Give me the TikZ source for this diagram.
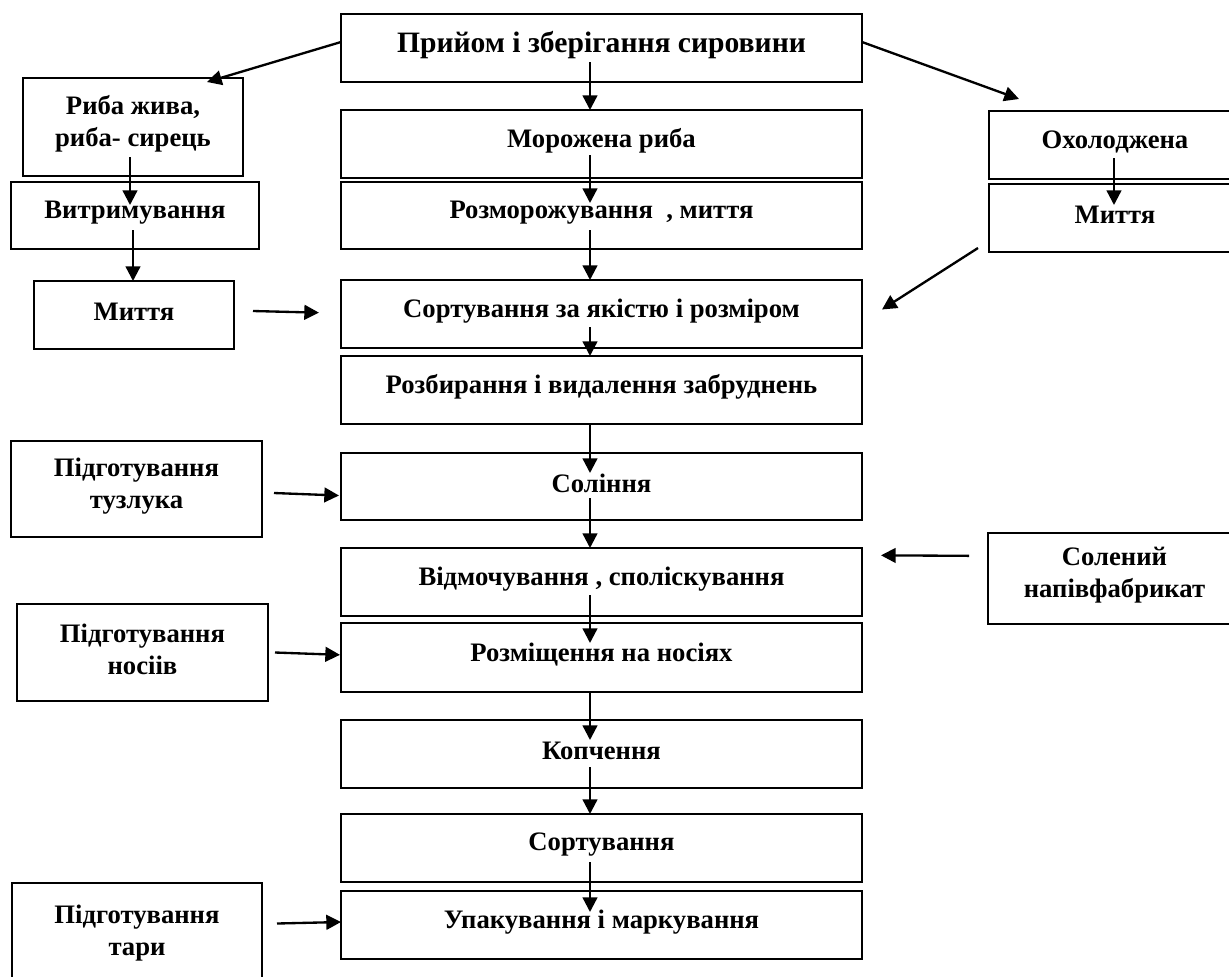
\documentclass[tikz,border=0pt]{standalone}
\usepackage{fontspec}
\setmainfont{Liberation Serif}
\usetikzlibrary{arrows.meta,calc}
\tikzset{
  box/.style={draw=black,line width=2.2pt,rectangle,inner sep=0pt,outer sep=0pt},
  txt/.style={font=\fontsize{20}{24}\selectfont\bfseries,align=center,inner sep=0pt,yshift=2.25pt},
  arr/.style={line width=1.75pt,-{Triangle[length=11pt,width=11pt]}},
}
\newcommand\fbx[6]{%
  \node[box,minimum width={(#4-#2)*0.75pt},minimum height={(#5-#3)*0.75pt}] (#1) at ({(#2+#4)/2},{(#3+#5)/2}) {};
  \node[txt] (#1-t) at (#1.center) {#6};}
\begin{document}
\begin{tikzpicture}[x=0.75pt,y=-0.75pt]
\useasboundingbox (0,0) rectangle (1229,976);
\clip (0,0) rectangle (1229,976);
\fill[white] (0,0) rectangle (1229,976);
% main column
\fbx{A}{341}{14}{862}{82}{\fontsize{22.2}{26}\selectfont Прийом і зберігання сировини}
\fbx{MR}{341}{110}{862}{178}{Морожена риба}
\fbx{RZ}{341}{182}{862}{249}{Розморожування~ , миття}
\fbx{S}{341}{280}{862}{348}{Сортування за якістю і розміром}
\fbx{RB}{341}{356}{862}{424}{Розбирання і видалення забруднень}
\fbx{SL}{341}{453}{862}{520}{Соління}
\fbx{VD}{341}{548}{862}{616}{Відмочування , споліскування}
\fbx{RM}{341}{623}{862}{692}{Розміщення на носіях}
\fbx{K}{341}{720}{862}{788}{Копчення}
\fbx{SO}{341}{814}{862}{882}{Сортування}
\fbx{U}{341}{891}{862}{959}{Упакування і маркування}
% left column
\fbx{R1}{23}{78}{243}{176}{Риба жива,\\риба- сирець}
\fbx{V}{11}{182}{259}{249}{Витримування}
\fbx{M1}{34}{281}{234}{349}{Миття}
\fbx{T}{11}{441}{262}{537}{Підготування\\тузлука}
\fbx{N}{17}{604}{268}{701}{Підготування\\носіів}
\fbx{TR}{12}{883}{262}{990}{Підготування\\тари}
% right column
\fbx{OK}{989}{111}{1241}{179}{Охолоджена}
\fbx{MR2}{989}{184}{1241}{252}{Миття}
\fbx{SN}{988}{533}{1241}{624}{Солений\\напівфабрикат}
\coordinate (col) at (590,0);
\coordinate (lc1) at (130,0);
\coordinate (lc2) at (133,0);
\coordinate (rc) at (1114,0);
% vertical arrows, main column
\draw[arr] ([yshift=15pt]A.south -| col) -- (MR.north -| col);
\draw[arr] ([yshift=17pt]MR.south -| col) -- ([yshift=-15.75pt]RZ.north -| col);
\draw[arr] ([yshift=14.25pt]RZ.south -| col) -- (S.north -| col);
\draw[arr] ([yshift=15.75pt]S.south -| col) -- (RB.north -| col);
\draw[arr] (RB.south -| col) -- ([yshift=-15pt]SL.north -| col);
\draw[arr] ([yshift=16.5pt]SL.south -| col) -- (VD.north -| col);
\draw[arr] ([yshift=15.75pt]VD.south -| col) -- ([yshift=-15pt]RM.north -| col);
\draw[arr] (RM.south -| col) -- ([yshift=-15pt]K.north -| col);
\draw[arr] ([yshift=15.75pt]K.south -| col) -- (SO.north -| col);
\draw[arr] ([yshift=15pt]SO.south -| col) -- ([yshift=-15.75pt]U.north -| col);
% left column
\draw[arr] ([yshift=14.25pt]R1.south -| lc1) -- ([yshift=-17.25pt]V.north -| lc1);
\draw[arr] ([yshift=14.25pt]V.south -| lc2) -- (M1.north -| lc2);
% right column
\draw[arr] ([yshift=15.75pt]OK.south -| rc) -- ([yshift=-15.75pt]MR2.north -| rc);
% diagonal arrows from top
\draw[arr] ([yshift=4.5pt]A.west) -- ([xshift=55.5pt,yshift=-3pt]R1.north);
\draw[arr] ([yshift=4.5pt]A.east) -- ([xshift=-72pt,yshift=9pt]OK.north);
\draw[arr] ([xshift=-8.25pt,yshift=-22.5pt]MR2.west) -- ([xshift=15pt,yshift=3.4pt]S.east);
% side inputs
\draw[arr] ([xshift=14.25pt,yshift=3pt]M1.east) -- ([xshift=-16.5pt,yshift=1pt]S.west);
\draw[arr] ([xshift=9pt,yshift=-3pt]T.east) -- ([xshift=-1.5pt,yshift=-6.75pt]SL.west);
\draw[arr] ([xshift=-14.25pt,yshift=17pt]SN.west) -- ([xshift=14.25pt,yshift=20pt]VD.east);
\draw[arr] ([xshift=5.25pt]N.east) -- ([xshift=-0.75pt,yshift=2pt]RM.west);
\draw[arr] ([xshift=11.25pt,yshift=9.75pt]TR.east) -- ([yshift=2.25pt]U.west);
\end{tikzpicture}
\end{document}
